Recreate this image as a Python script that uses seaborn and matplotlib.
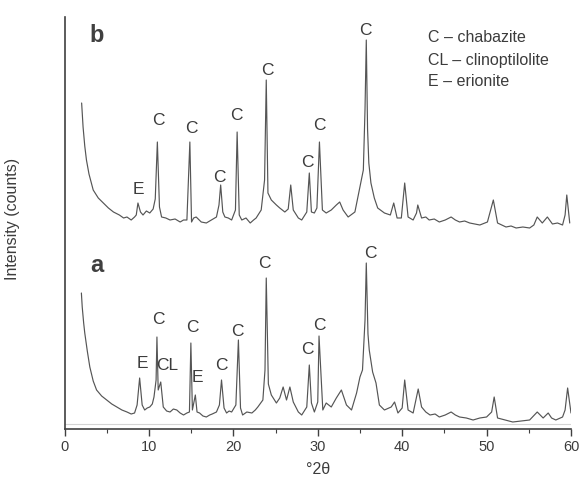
import matplotlib
matplotlib.use("Agg")
import matplotlib.pyplot as plt
import seaborn as sns
import numpy as np

# ---- data (arbitrary intensity units) ----
two_theta_a = [2.0, 2.1, 2.27, 2.4, 2.7, 3.0, 3.4, 3.8, 4.4, 5.0, 5.6, 6.2, 6.8, 7.4, 7.9, 8.3,
               8.6, 8.9, 9.2, 9.5, 9.8, 10.1, 10.4, 10.6, 10.85, 10.95, 11.1, 11.4, 11.7, 12.1,
               12.5, 12.9, 13.3, 13.7, 14.1, 14.5, 14.8, 14.97, 15.15, 15.5, 15.7, 16.0, 16.4,
               16.8, 17.2, 17.5, 18.0, 18.35, 18.6, 18.9, 19.2, 19.5, 19.8, 20.3, 20.6, 20.85,
               21.1, 21.6, 22.2, 22.6, 22.9, 23.5, 23.75, 23.9, 24.15, 24.5, 25.1, 25.5, 25.9,
               26.3, 26.7, 27.1, 27.7, 28.1, 28.7, 29.0, 29.25, 29.6, 30.0, 30.15, 30.6, 31.0,
               31.6, 32.2, 32.8, 33.4, 34.0, 34.6, 35.0, 35.3, 35.6, 35.75, 35.95, 36.1, 36.5,
               36.9, 37.3, 37.9, 38.7, 39.1, 39.5, 40.0, 40.3, 40.7, 41.3, 41.7, 41.9, 42.3,
               42.8, 43.3, 43.9, 44.4, 45.1, 45.8, 46.3, 46.8, 47.6, 48.4, 49.2, 50.0, 50.6,
               50.9, 51.3, 52.2, 53.1, 54.1, 55.1, 56.0, 56.7, 57.3, 57.7, 58.2, 59.0, 59.3,
               59.6, 60.0]
counts_a = [136, 122, 106, 96, 78, 62, 48, 39, 33, 29, 25, 22, 19, 17, 15, 16,
            24, 51, 24, 19, 21, 22, 25, 32, 49, 92, 39, 47, 22, 18,
            17, 20, 19, 16, 14, 16, 17, 86, 19, 34, 17, 16, 13,
            12, 14, 15, 17, 24, 49, 21, 16, 18, 17, 24, 89, 21,
            14, 17, 16, 19, 22, 29, 59, 151, 45, 34, 26, 31, 42,
            29, 42, 27, 17, 14, 22, 64, 26, 17, 27, 93, 19, 26,
            22, 31, 39, 24, 19, 36, 52, 59, 109, 166, 95, 79, 57,
            46, 24, 19, 22, 27, 16, 21, 49, 19, 16, 32, 40, 22,
            17, 14, 15, 12, 14, 17, 14, 12, 11, 9, 11, 12, 17,
            32, 11, 9, 7, 8, 9, 17, 11, 16, 11, 9, 12, 19,
            41, 16]

two_theta_b = [2.03, 2.1, 2.2, 2.4, 2.6, 2.9, 3.4, 4.0, 4.6, 5.2, 5.8, 6.5, 7.0, 7.4, 7.9, 8.3,
               8.5, 8.7, 9.0, 9.3, 9.7, 10.1, 10.5, 10.75, 11.0, 11.25, 11.5, 12.0, 12.5, 13.1,
               13.7, 14.1, 14.5, 14.85, 15.05, 15.3, 15.6, 16.2, 16.8, 17.4, 18.0, 18.3, 18.5,
               18.75, 19.0, 19.4, 19.8, 20.25, 20.45, 20.7, 21.0, 21.5, 22.0, 22.4, 22.7, 23.3,
               23.7, 23.9, 24.1, 24.5, 25.1, 25.5, 26.1, 26.5, 26.8, 27.1, 27.7, 28.1, 28.7,
               29.0, 29.25, 29.6, 29.9, 30.2, 30.55, 31.0, 31.6, 32.2, 32.6, 33.0, 33.6, 34.4,
               35.0, 35.4, 35.6, 35.75, 35.9, 36.05, 36.3, 36.7, 37.1, 37.9, 38.6, 39.0, 39.4,
               39.9, 40.3, 40.7, 41.3, 41.7, 41.85, 42.3, 42.8, 43.2, 43.8, 44.4, 45.1, 45.8,
               46.3, 46.8, 47.4, 48.0, 48.6, 49.2, 50.1, 50.8, 51.3, 51.8, 52.3, 52.9, 53.5,
               54.3, 55.1, 55.6, 56.0, 56.6, 57.2, 57.8, 58.4, 59.0, 59.3, 59.5, 59.85]
counts_b = [326, 316, 302, 283, 269, 255, 239, 231, 226, 221, 217, 214, 211, 212, 209, 212,
            214, 226, 217, 214, 218, 216, 220, 230, 287, 222, 212, 211, 209, 210,
            207, 209, 209, 287, 207, 211, 212, 207, 206, 209, 212, 224, 244,
            217, 212, 211, 209, 219, 297, 214, 209, 211, 206, 209, 211, 219,
            249, 349, 236, 229, 224, 221, 217, 220, 244, 219, 211, 209, 217,
            256, 217, 216, 221, 287, 219, 216, 219, 224, 227, 219, 212, 217,
            242, 259, 320, 389, 300, 266, 246, 231, 221, 216, 214, 226, 211,
            211, 246, 212, 209, 216, 224, 211, 212, 209, 210, 207, 209, 212,
            209, 207, 208, 206, 205, 204, 207, 229, 206, 204, 202, 203, 201,
            202, 201, 204, 212, 206, 212, 205, 206, 204, 214, 234, 206]

labels_b = ["E", "C", "C", "C", "C", "C", "C", "C", "C"]
label_x_b = [8.8, 11.1, 15.0, 18.4, 20.4, 24.0, 28.8, 30.2, 35.7]
label_y_b = [240, 309, 301, 252, 314, 359, 267, 304, 399]

labels_a = ["E", "C", "CL", "C", "E", "C", "C", "C", "C", "C", "C"]
label_x_a = [9.2, 11.1, 12.2, 15.1, 15.7, 18.6, 20.5, 23.7, 28.8, 30.2, 36.2]
label_y_a = [66, 109, 63, 102, 52, 63, 97, 166, 79, 104, 176]

legend_lines = ["C \u2013 chabazite", "CL \u2013 clinoptilolite", "E \u2013 erionite"]
x_ticks = [0, 10, 20, 30, 40, 50, 60]

# ---- drawing ----
sns.set_style("white")
plt.rcParams["font.family"] = ["Liberation Sans", "DejaVu Sans"]

W, H = 582, 483
fig = plt.figure(figsize=(W / 100, H / 100), dpi=100)
ax = fig.add_axes([64.5 / W, 54 / H, 506.5 / W, 412 / H])

line_col = "#555555"
txt_col = "#3c3c3c"

ax.axhline(5, color="#d4d4d4", lw=0.8, zorder=0)
sns.lineplot(x=two_theta_a, y=counts_a, ax=ax, color=line_col, lw=0.85, estimator=None, sort=False)
sns.lineplot(x=two_theta_b, y=counts_b, ax=ax, color=line_col, lw=0.85, estimator=None, sort=False)

ax.set_xlim(0, 60)
ax.set_ylim(0, 412)
ax.set_yticks([])
ax.set_xticks(x_ticks)
ax.set_xticklabels([str(t) for t in x_ticks])
ax.set_xticks(np.arange(5, 60, 10), minor=True)
ax.tick_params(axis="x", which="major", direction="out", length=5, width=1.0,
               colors="#404040", labelsize=10.5, labelcolor=txt_col, pad=3)
ax.tick_params(axis="x", which="minor", direction="out", length=3, width=0.8, colors="#404040")
ax.tick_params(axis="x", which="both", bottom=True)

for s in ["top", "right"]:
    ax.spines[s].set_visible(False)
for s in ["left", "bottom"]:
    ax.spines[s].set_color("#404040")
    ax.spines[s].set_linewidth(1.2)

for t, x, y in zip(labels_b, label_x_b, label_y_b):
    ax.text(x, y, t, ha="center", va="center", fontsize=12.5, color=txt_col)
for t, x, y in zip(labels_a, label_x_a, label_y_a):
    ax.text(x, y, t, ha="center", va="center", fontsize=12.5, color=txt_col)

fig.text(97 / W, 1 - 36 / H, "b", ha="center", va="center", fontsize=17,
         fontweight="bold", color="#404040")
fig.text(97 / W, 1 - 266 / H, "a", ha="center", va="center", fontsize=17,
         fontweight="bold", color="#404040")

for i, s in enumerate(legend_lines):
    fig.text(428 / W, 1 - (38 + 22 * i) / H, s, ha="left", va="center",
             fontsize=11.5, color=txt_col)

ax.set_ylabel("Intensity (counts)", fontsize=11.5, color=txt_col)
ax.yaxis.set_label_coords(-44 / 506.5, 0.51)
ax.set_xlabel("\u00b02\u03b8", fontsize=11.5, color=txt_col)
ax.xaxis.set_label_coords(0.5, -33 / 412)

fig.savefig("out.png", dpi=100, facecolor="white")
